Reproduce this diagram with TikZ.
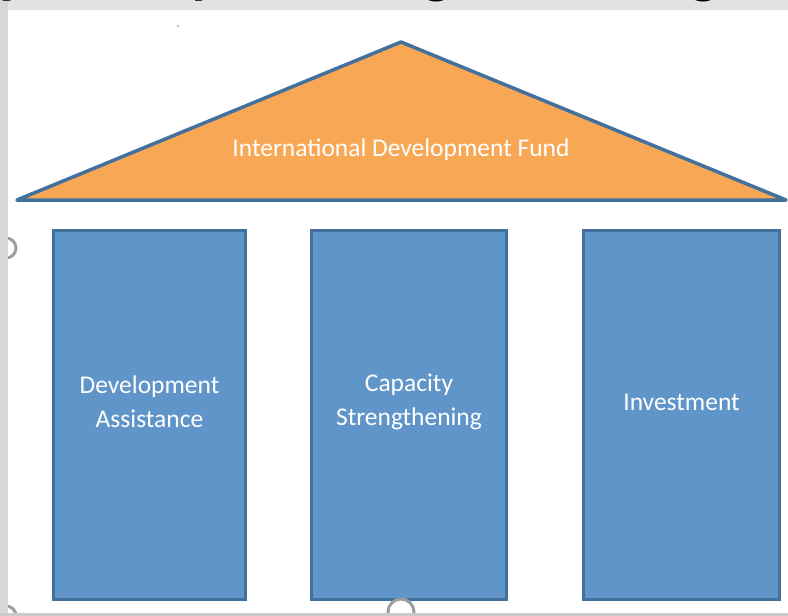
\documentclass[tikz,border=0pt]{standalone}
\usepackage{fontspec}
\setmainfont{Carlito}
\usetikzlibrary{positioning}

\definecolor{fundorange}{RGB}{248,167,84}
\definecolor{pillarblue}{RGB}{96,149,201}
\definecolor{edgeblue}{RGB}{65,113,156}
\definecolor{framegray}{RGB}{226,226,226}
\definecolor{handlegray}{RGB}{158,158,158}

\begin{document}
\begin{tikzpicture}[x=1pt,y=-1pt,
    pillar/.style={draw=edgeblue,line width=3pt,fill=pillarblue,minimum width=#1,minimum height=369pt,inner sep=0pt},
    pillartext/.style={text=white,align=center,font=\fontsize{25.5}{34}\selectfont},
    fragment/.style={anchor=base,inner sep=0pt,font=\fontsize{62}{70}\bfseries},
    handle/.style={draw=handlegray,fill=white,line width=3pt}]
\useasboundingbox (0,0) rectangle (788,616);
\fill[white] (0,0) rectangle (788,616);

\coordinate (apex) at (401,42);
\coordinate (baseL) at (17,200);
\coordinate (baseR) at (786,200);
\draw[edgeblue,fill=fundorange,line width=3.5pt,line join=round] (baseL) -- (apex) -- (baseR) -- cycle;
\node[pillartext] (fund) at (401,150) {International Development Fund};

\node[pillar=192pt] (assist) at (149.5,414.5) {};
\node[pillar=195pt,right=63pt of assist] (capacity) {};
\node[pillar=196pt,right=74pt of capacity] (invest) {};
\node[pillartext] (assisttext) at ([yshift=13pt]assist.center) {Development\\Assistance};
\node[pillartext] (capacitytext) at ([yshift=13pt]capacity.center) {Capacity\\Strengthening};
\node[pillartext] (investtext) at ([yshift=12pt]invest.center) {Investment};

\fill[edgeblue!45] (178,26) circle (1.3pt);
\draw[handle] (6,248) circle (10pt);
\draw[handle] (6,616) circle (10pt);
\draw[handle] (401,612) circle (13pt);

\fill[framegray] (0,0) rectangle (788,10);
\fill[framegray!95!black] (0,0) rectangle (8,616);
\fill[framegray!90!black] (0,613) rectangle (788,616);
\begin{scope}
  \clip (0,0) rectangle (788,10);
  \node[fragment] (fragp) at (16,-9) {p};
  \node[fragment] (fragy) at (204,-9) {y};
  \node[fragment] (fragg) at (437,-9) {g};
  \node[fragment] (fraggc) at (713,-9) {g,};
\end{scope}
\end{tikzpicture}
\end{document}
